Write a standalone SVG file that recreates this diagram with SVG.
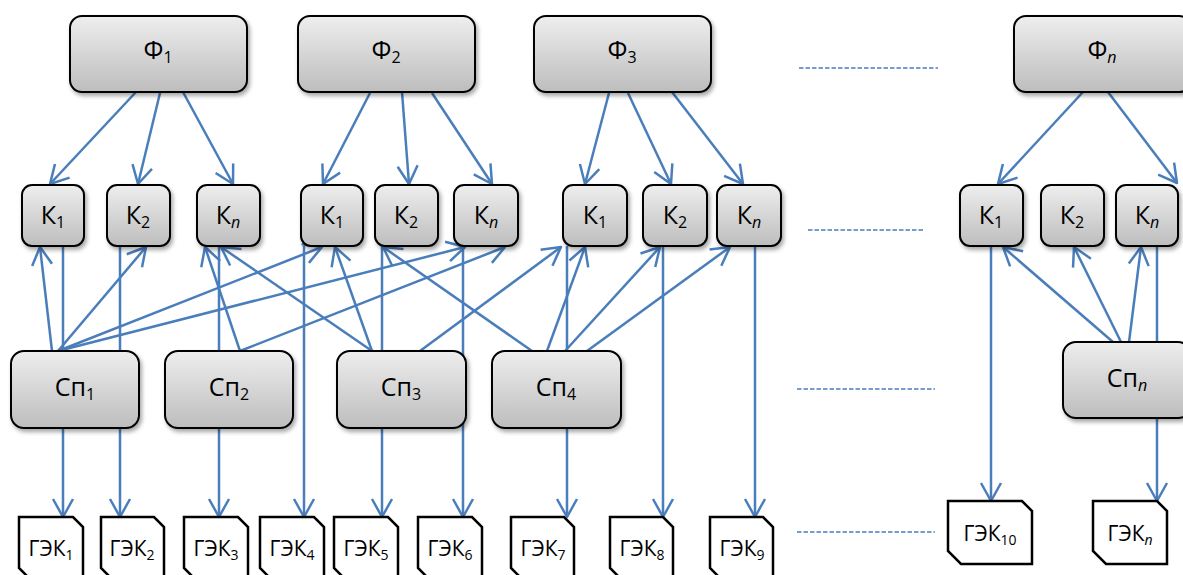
<svg xmlns="http://www.w3.org/2000/svg" width="1183" height="575" viewBox="0 0 1183 575">
<defs>
<linearGradient id="g" x1="0" y1="0" x2="0" y2="1">
<stop offset="0" stop-color="#EEEEEE"/>
<stop offset="1" stop-color="#BDBDBD"/>
</linearGradient>
<filter id="sh" x="-20%" y="-20%" width="140%" height="150%">
<feDropShadow dx="2" dy="3" stdDeviation="2" flood-color="#000" flood-opacity="0.35"/>
</filter>
<marker id="ah" markerUnits="userSpaceOnUse" markerWidth="24" markerHeight="24" viewBox="-21 -12 24 24" refX="0" refY="0" orient="auto" overflow="visible">
<path d="M-18,-10 L0,0 L-18,10" fill="none" stroke="#4A7EBB" stroke-width="2.5" stroke-linejoin="round"/>
</marker>
<style>
.c{stroke:#4A7EBB;stroke-width:2.5;fill:none;marker-end:url(#ah)}
.d{stroke:#4A7EBB;stroke-width:1.4;fill:none;stroke-dasharray:4.5 2}
.box{fill:url(#g);stroke:#000;stroke-width:2;filter:url(#sh)}
.gek{fill:#fff;stroke:#000;stroke-width:2.5;stroke-linejoin:miter}
.t{font-family:"Open Sans","Noto Sans",sans-serif;font-size:25px;fill:#000;text-anchor:middle}
.tg{font-family:"Open Sans","Noto Sans",sans-serif;font-size:21px;fill:#000;text-anchor:middle}
.s{font-size:16px}
.sg{font-size:14px}
.i{font-style:italic}
</style>
</defs>

<g id="connectors">
<!-- F -> K -->
<line class="c" x1="136" y1="92" x2="50" y2="184"/>
<line class="c" x1="160" y1="93" x2="138" y2="184"/>
<line class="c" x1="183" y1="92" x2="233" y2="184"/>
<line class="c" x1="370" y1="93" x2="323" y2="184"/>
<line class="c" x1="402" y1="92" x2="409" y2="184"/>
<line class="c" x1="432" y1="93" x2="492" y2="184"/>
<line class="c" x1="609" y1="93" x2="585" y2="184"/>
<line class="c" x1="628" y1="93" x2="671" y2="184"/>
<line class="c" x1="672" y1="92" x2="743" y2="184"/>
<line class="c" x1="1083" y1="92" x2="998" y2="184"/>
<line class="c" x1="1108" y1="92" x2="1177" y2="183"/>
<!-- Sp -> K -->
<line class="c" x1="52" y1="351" x2="40" y2="247"/>
<line class="c" x1="58" y1="351" x2="146" y2="247"/>
<line class="c" x1="58" y1="351" x2="322" y2="247"/>
<line class="c" x1="58" y1="351" x2="465" y2="247"/>
<line class="c" x1="240" y1="351" x2="205" y2="247"/>
<line class="c" x1="240" y1="351" x2="505" y2="247"/>
<line class="c" x1="372" y1="351" x2="221" y2="247"/>
<line class="c" x1="372" y1="351" x2="335" y2="247"/>
<line class="c" x1="420" y1="351" x2="561" y2="247"/>
<line class="c" x1="532" y1="351" x2="383" y2="247"/>
<line class="c" x1="547" y1="351" x2="585" y2="247"/>
<line class="c" x1="565" y1="351" x2="660" y2="247"/>
<line class="c" x1="587" y1="351" x2="730" y2="247"/>
<line class="c" x1="1113" y1="342" x2="1003" y2="247"/>
<line class="c" x1="1121" y1="342" x2="1074" y2="247"/>
<line class="c" x1="1129" y1="342" x2="1141" y2="247"/>
<!-- K -> GEK -->
<line class="c" x1="63" y1="246" x2="63" y2="517"/>
<line class="c" x1="120" y1="246" x2="120" y2="517"/>
<line class="c" x1="219" y1="246" x2="219" y2="517"/>
<line class="c" x1="304" y1="246" x2="304" y2="517"/>
<line class="c" x1="382" y1="246" x2="382" y2="517"/>
<line class="c" x1="463" y1="246" x2="463" y2="517"/>
<line class="c" x1="567" y1="246" x2="567" y2="517"/>
<line class="c" x1="663" y1="246" x2="663" y2="517"/>
<line class="c" x1="755" y1="246" x2="755" y2="517"/>
<line class="c" x1="991" y1="246" x2="991" y2="501"/>
<line class="c" x1="1157" y1="246" x2="1157" y2="501"/>
<!-- dashed ellipsis lines -->
<line class="d" x1="799" y1="68" x2="938" y2="68"/>
<line class="d" x1="808" y1="230" x2="925" y2="230"/>
<line class="d" x1="797" y1="389" x2="935" y2="389"/>
<line class="d" x1="797" y1="532" x2="935" y2="532"/>
</g>

<!-- F nodes -->
<g id="F1"><rect class="box" x="70" y="16" width="177" height="76" rx="12"/><text class="t" x="158" y="59">Φ<tspan class="s" dy="4">1</tspan></text></g>
<g id="F2"><rect class="box" x="298" y="16" width="177" height="76" rx="12"/><text class="t" x="386" y="59">Φ<tspan class="s" dy="4">2</tspan></text></g>
<g id="F3"><rect class="box" x="534" y="16" width="177" height="76" rx="12"/><text class="t" x="622" y="59">Φ<tspan class="s" dy="4">3</tspan></text></g>
<g id="Fn"><rect class="box" x="1014" y="16" width="177" height="76" rx="12"/><text class="t" x="1102" y="59">Φ<tspan class="s i" dy="4">n</tspan></text></g>

<!-- K nodes -->
<g id="K1a"><rect class="box" x="22" y="185" width="62" height="61" rx="10"/><text class="t" x="53" y="224">К<tspan class="s" dy="4">1</tspan></text></g>
<g id="K2a"><rect class="box" x="107" y="185" width="63" height="61" rx="10"/><text class="t" x="138" y="224">К<tspan class="s" dy="4">2</tspan></text></g>
<g id="Kna"><rect class="box" x="197" y="185" width="63" height="61" rx="10"/><text class="t" x="228" y="224">К<tspan class="s i" dy="4">n</tspan></text></g>
<g id="K1b"><rect class="box" x="301" y="185" width="62" height="61" rx="10"/><text class="t" x="332" y="224">К<tspan class="s" dy="4">1</tspan></text></g>
<g id="K2b"><rect class="box" x="375" y="185" width="63" height="61" rx="10"/><text class="t" x="406" y="224">К<tspan class="s" dy="4">2</tspan></text></g>
<g id="Knb"><rect class="box" x="454" y="185" width="64" height="61" rx="10"/><text class="t" x="486" y="224">К<tspan class="s i" dy="4">n</tspan></text></g>
<g id="K1c"><rect class="box" x="563" y="185" width="64" height="61" rx="10"/><text class="t" x="595" y="224">К<tspan class="s" dy="4">1</tspan></text></g>
<g id="K2c"><rect class="box" x="643" y="185" width="64" height="61" rx="10"/><text class="t" x="675" y="224">К<tspan class="s" dy="4">2</tspan></text></g>
<g id="Knc"><rect class="box" x="717" y="185" width="64" height="61" rx="10"/><text class="t" x="749" y="224">К<tspan class="s i" dy="4">n</tspan></text></g>
<g id="K1d"><rect class="box" x="960" y="185" width="63" height="61" rx="10"/><text class="t" x="991" y="224">К<tspan class="s" dy="4">1</tspan></text></g>
<g id="K2d"><rect class="box" x="1041" y="185" width="63" height="61" rx="10"/><text class="t" x="1072" y="224">К<tspan class="s" dy="4">2</tspan></text></g>
<g id="Knd"><rect class="box" x="1116" y="185" width="62" height="61" rx="10"/><text class="t" x="1147" y="224">К<tspan class="s i" dy="4">n</tspan></text></g>

<!-- Sp nodes -->
<g id="Sp1"><rect class="box" x="11" y="351" width="128" height="77" rx="13"/><text class="t" x="75" y="396">Сп<tspan class="s" dy="4">1</tspan></text></g>
<g id="Sp2"><rect class="box" x="165" y="351" width="128" height="77" rx="13"/><text class="t" x="229" y="396">Сп<tspan class="s" dy="4">2</tspan></text></g>
<g id="Sp3"><rect class="box" x="337" y="351" width="129" height="77" rx="13"/><text class="t" x="401" y="396">Сп<tspan class="s" dy="4">3</tspan></text></g>
<g id="Sp4"><rect class="box" x="492" y="351" width="129" height="77" rx="13"/><text class="t" x="556" y="396">Сп<tspan class="s" dy="4">4</tspan></text></g>
<g id="Spn"><rect class="box" x="1063" y="342" width="128" height="76" rx="13"/><text class="t" x="1127" y="387">Сп<tspan class="s i" dy="4">n</tspan></text></g>

<!-- GEK nodes -->
<g id="G1"><path class="gek" d="M19,517 H73 L83,527 V580 H31 L19,568 Z"/><text class="tg" x="51" y="556">ГЭК<tspan class="sg" dy="4">1</tspan></text></g>
<g id="G2"><path class="gek" d="M101,517 H154 L164,527 V580 H113 L101,568 Z"/><text class="tg" x="132" y="556">ГЭК<tspan class="sg" dy="4">2</tspan></text></g>
<g id="G3"><path class="gek" d="M184,517 H238 L248,527 V580 H196 L184,568 Z"/><text class="tg" x="216" y="556">ГЭК<tspan class="sg" dy="4">3</tspan></text></g>
<g id="G4"><path class="gek" d="M260,517 H314 L324,527 V580 H272 L260,568 Z"/><text class="tg" x="292" y="556">ГЭК<tspan class="sg" dy="4">4</tspan></text></g>
<g id="G5"><path class="gek" d="M334,517 H388 L398,527 V580 H346 L334,568 Z"/><text class="tg" x="366" y="556">ГЭК<tspan class="sg" dy="4">5</tspan></text></g>
<g id="G6"><path class="gek" d="M418,517 H472 L482,527 V580 H430 L418,568 Z"/><text class="tg" x="450" y="556">ГЭК<tspan class="sg" dy="4">6</tspan></text></g>
<g id="G7"><path class="gek" d="M511,517 H564 L574,527 V580 H523 L511,568 Z"/><text class="tg" x="543" y="556">ГЭК<tspan class="sg" dy="4">7</tspan></text></g>
<g id="G8"><path class="gek" d="M610,517 H663 L673,527 V580 H622 L610,568 Z"/><text class="tg" x="642" y="556">ГЭК<tspan class="sg" dy="4">8</tspan></text></g>
<g id="G9"><path class="gek" d="M710,517 H763 L773,527 V580 H722 L710,568 Z"/><text class="tg" x="742" y="556">ГЭК<tspan class="sg" dy="4">9</tspan></text></g>
<g id="G10"><path class="gek" d="M948,501 H1022 L1032,511 V564 H961 L948,551 Z"/><text class="tg" x="990" y="541">ГЭК<tspan class="sg" dy="4">10</tspan></text></g>
<g id="Gn"><path class="gek" d="M1093,501 H1157 L1167,511 V564 H1106 L1093,551 Z"/><text class="tg" x="1130" y="541">ГЭК<tspan class="sg i" dy="4">n</tspan></text></g>
</svg>
